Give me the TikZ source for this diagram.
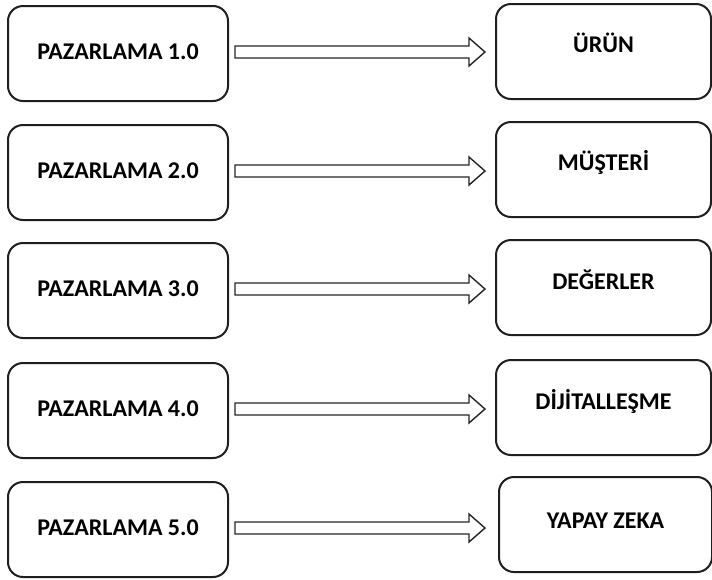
\documentclass[tikz,border=0pt]{standalone}
\usepackage{fontspec}
\setmainfont{Carlito}
\usetikzlibrary{calc}
\begin{document}
\begin{tikzpicture}[x=1pt,y=-1pt,
  box/.style={draw=black!88, line width=2pt, rounded corners=15pt, minimum height=95pt, inner sep=0pt,
    font=\fontsize{24}{28}\selectfont\bfseries, text height=16pt, text depth=4pt},
  lbox/.style={box, minimum width=220pt},
  rbox/.style={box, minimum width=215pt},
  rtext/.style={font=\fontsize{24}{28}\selectfont\bfseries, inner sep=0pt, text height=16pt, text depth=4pt},
  barrow/.style={draw=black!85, line width=1.4pt, fill=white, line join=miter}]
\useasboundingbox (0,0) rectangle (712,579);
\fill[white] (0,0) rectangle (712,579);

\node[lbox] (L1) at (118,53.5)  {PAZARLAMA 1.0};
\node[lbox] (L2) at (118,172.5) {PAZARLAMA 2.0};
\node[lbox] (L3) at (118,290.5) {PAZARLAMA 3.0};
\node[lbox] (L4) at (118,410.5) {PAZARLAMA 4.0};
\node[lbox] (L5) at (118,529.5) {PAZARLAMA 5.0};

\node[rbox] (R1) at (603.5,51.5)  {};
\node[rbox] (R2) at (603.5,169.5) {};
\node[rbox] (R3) at (603.5,287.5) {};
\node[rbox] (R4) at (603.5,407.5) {};
\node[rbox, minimum width=213pt] (R5) at (605.5,524.5) {};

\node[rtext] (T1) at ($(R1.center)+(0,5pt)$) {ÜRÜN};
\node[rtext] (T2) at ($(R2.center)+(0,5.5pt)$) {MÜŞTERİ};
\node[rtext] (T3) at ($(R3.center)+(0,4.5pt)$) {DEĞERLER};
\node[rtext] (T4) at ($(R4.center)+(0,4.5pt)$) {DİJİTALLEŞME};
\node[rtext] (T5) at ($(R5.center)+(0,2pt)$) {YAPAY ZEKA};

\foreach \i in {1,...,5} {
  \draw[barrow] let \p1=($(L\i.east)+(6pt,1.5pt)$), \p2=(R\i.west) in
    (\x1,\y1+6pt) -- (485pt-16pt,\y1+6pt) -- (485pt-16pt,\y1+14pt) -- (485pt,\y1)
    -- (485pt-16pt,\y1-14pt) -- (485pt-16pt,\y1-6pt) -- (\x1,\y1-6pt) -- cycle;
}
\end{tikzpicture}
\end{document}
